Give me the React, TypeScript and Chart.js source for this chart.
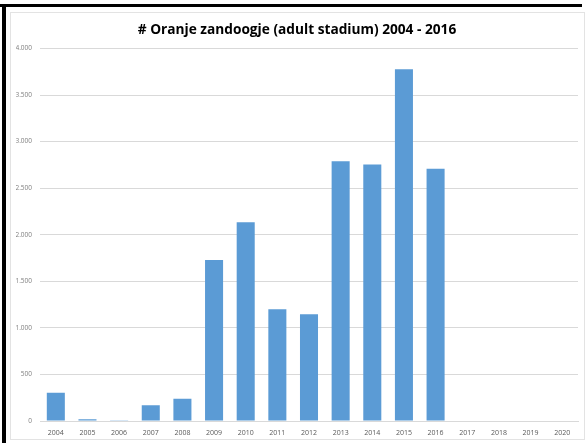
import React, { useEffect, useRef } from "react";
import { Chart, registerables } from "chart.js";

Chart.register(...registerables);

const TITLE = "# Oranje zandoogje (adult stadium) 2004 - 2016";
const YEARS = ["2004","2005","2006","2007","2008","2009","2010","2011","2012","2013","2014","2015","2016","2017","2018","2019","2020"];
const COUNTS: (number | null)[] = [302, 18, 8, 169, 238, 1728, 2134, 1200, 1147, 2788, 2755, 3776, 2709, null, null, null, null];
const Y_MAX = 4000;
const Y_STEP = 500;

const framePlugin = {
  id: "frame",
  beforeDraw(chart: any) {
    const ctx = chart.ctx;
    ctx.save();
    ctx.fillStyle = "#ffffff";
    ctx.fillRect(0, 0, chart.width, chart.height);
    ctx.strokeStyle = "#e3e3e3";
    ctx.lineWidth = 1;
    ctx.strokeRect(10.5, 12.5, 574, 427);
    ctx.fillStyle = "#000000";
    ctx.fillRect(0, 4, 582, 3);
    ctx.fillRect(2, 4, 4, chart.height - 4);
    ctx.restore();
  },
};

export default function App() {
  const ref = useRef<HTMLCanvasElement>(null);
  useEffect(() => {
    document.body.style.margin = "0";
    const chart = new Chart(ref.current!, {
      type: "bar",
      data: {
        labels: YEARS,
        datasets: [
          {
            data: COUNTS,
            backgroundColor: "#5B9BD5",
            borderWidth: 0,
            barPercentage: 0.57,
            categoryPercentage: 1,
          },
        ],
      },
      options: {
        animation: false,
        responsive: false,
        maintainAspectRatio: false,
        layout: { padding: { left: 16, right: 9, top: 0, bottom: 0 } },
        plugins: {
          legend: { display: false },
          tooltip: { enabled: false },
          title: {
            display: true,
            text: TITLE,
            color: "#000000",
            font: { family: "Open Sans", size: 13.7, weight: "bold" },
            padding: { top: 22, bottom: 10 },
          },
        },
        scales: {
          x: {
            grid: { display: false },
            border: { display: true, color: "#d9d9d9" },
            ticks: {
              color: "#595959",
              font: { family: "Open Sans", size: 7 },
              maxRotation: 0,
              autoSkip: false,
              padding: 0,
            },
            afterFit(scale: any) {
              scale.height = 22;
            },
          },
          y: {
            min: 0,
            max: Y_MAX,
            grid: { color: "#d9d9d9", drawTicks: false },
            border: { display: false },
            ticks: {
              stepSize: Y_STEP,
              color: "#7f7f7f",
              font: { family: "Open Sans", size: 6.5 },
              padding: 8,
              callback: (v: any) => Number(v).toLocaleString("nl-NL"),
            },
            afterFit(scale: any) {
              scale.width = 24;
            },
          },
        },
      },
      plugins: [framePlugin],
    });
    return () => chart.destroy();
  }, []);
  return (
    <div style={{ position: "absolute", left: 0, top: 0, width: 587, height: 443 }}>
      <canvas ref={ref} width={587} height={443} style={{ display: "block" }} />
    </div>
  );
}
